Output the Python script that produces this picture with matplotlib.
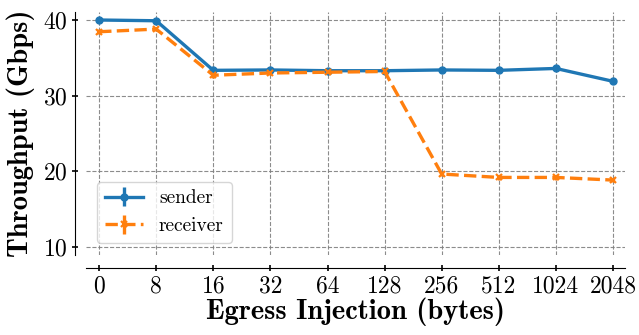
import matplotlib
matplotlib.use('Agg')
import matplotlib.pyplot as plt

plt.rcParams['font.family'] = 'serif'
plt.rcParams['font.serif'] = ['cmr10']
plt.rcParams['axes.formatter.use_mathtext'] = True

injection = ['0', '8', '16', '32', '64', '128', '256', '512', '1024', '2048']
sender = [40.0, 39.9, 33.35, 33.4, 33.3, 33.3, 33.4, 33.35, 33.6, 31.9]
receiver = [38.45, 38.8, 32.7, 33.0, 33.1, 33.2, 19.65, 19.2, 19.2, 18.85]
sender_err = [0.15] * 10
receiver_err = [0.3] * 10

x = list(range(len(injection)))

fig = plt.figure(figsize=(6.39, 3.35), dpi=100)
ax = fig.add_axes([0.1346, 0.2388, 0.978 - 0.1346, 0.964 - 0.2388])

ax.errorbar(x, sender, yerr=sender_err, color='#1f77b4', lw=2.4, marker='o',
            ms=5, label='sender')
ax.errorbar(x, receiver, yerr=receiver_err, color='#ff7f0e', lw=2.4, ls='--',
            marker='x', ms=5, mew=1.6, label='receiver')

ax.set_xticks(x)
ax.set_xticklabels(injection)
ax.set_yticks([10, 20, 30, 40])
ax.set_xlim(-0.23, 9.21)
ax.set_ylim(8.95, 41.05)
ax.tick_params(labelsize=17, direction='inout', length=5, width=1.2, pad=3)

ax.grid(True, ls='--', color='gray', lw=0.8, alpha=0.9)
for s in ['top', 'right']:
    ax.spines[s].set_visible(False)
ax.spines['left'].set_position(('outward', 8))
ax.spines['bottom'].set_position(('outward', 9.5))

ax.set_xlabel('Egress Injection (bytes)', fontsize=20.5, fontfamily='cmb10',
              labelpad=0)
ax.set_ylabel('Throughput (Gbps)', fontsize=20.5, fontfamily='cmb10')
ax.yaxis.set_label_coords(-0.095, 0.5)

ax.legend(loc='lower left', fontsize=14, bbox_to_anchor=(0.02, 0.05),
          borderaxespad=0)

fig.savefig('out.png', dpi=100)
